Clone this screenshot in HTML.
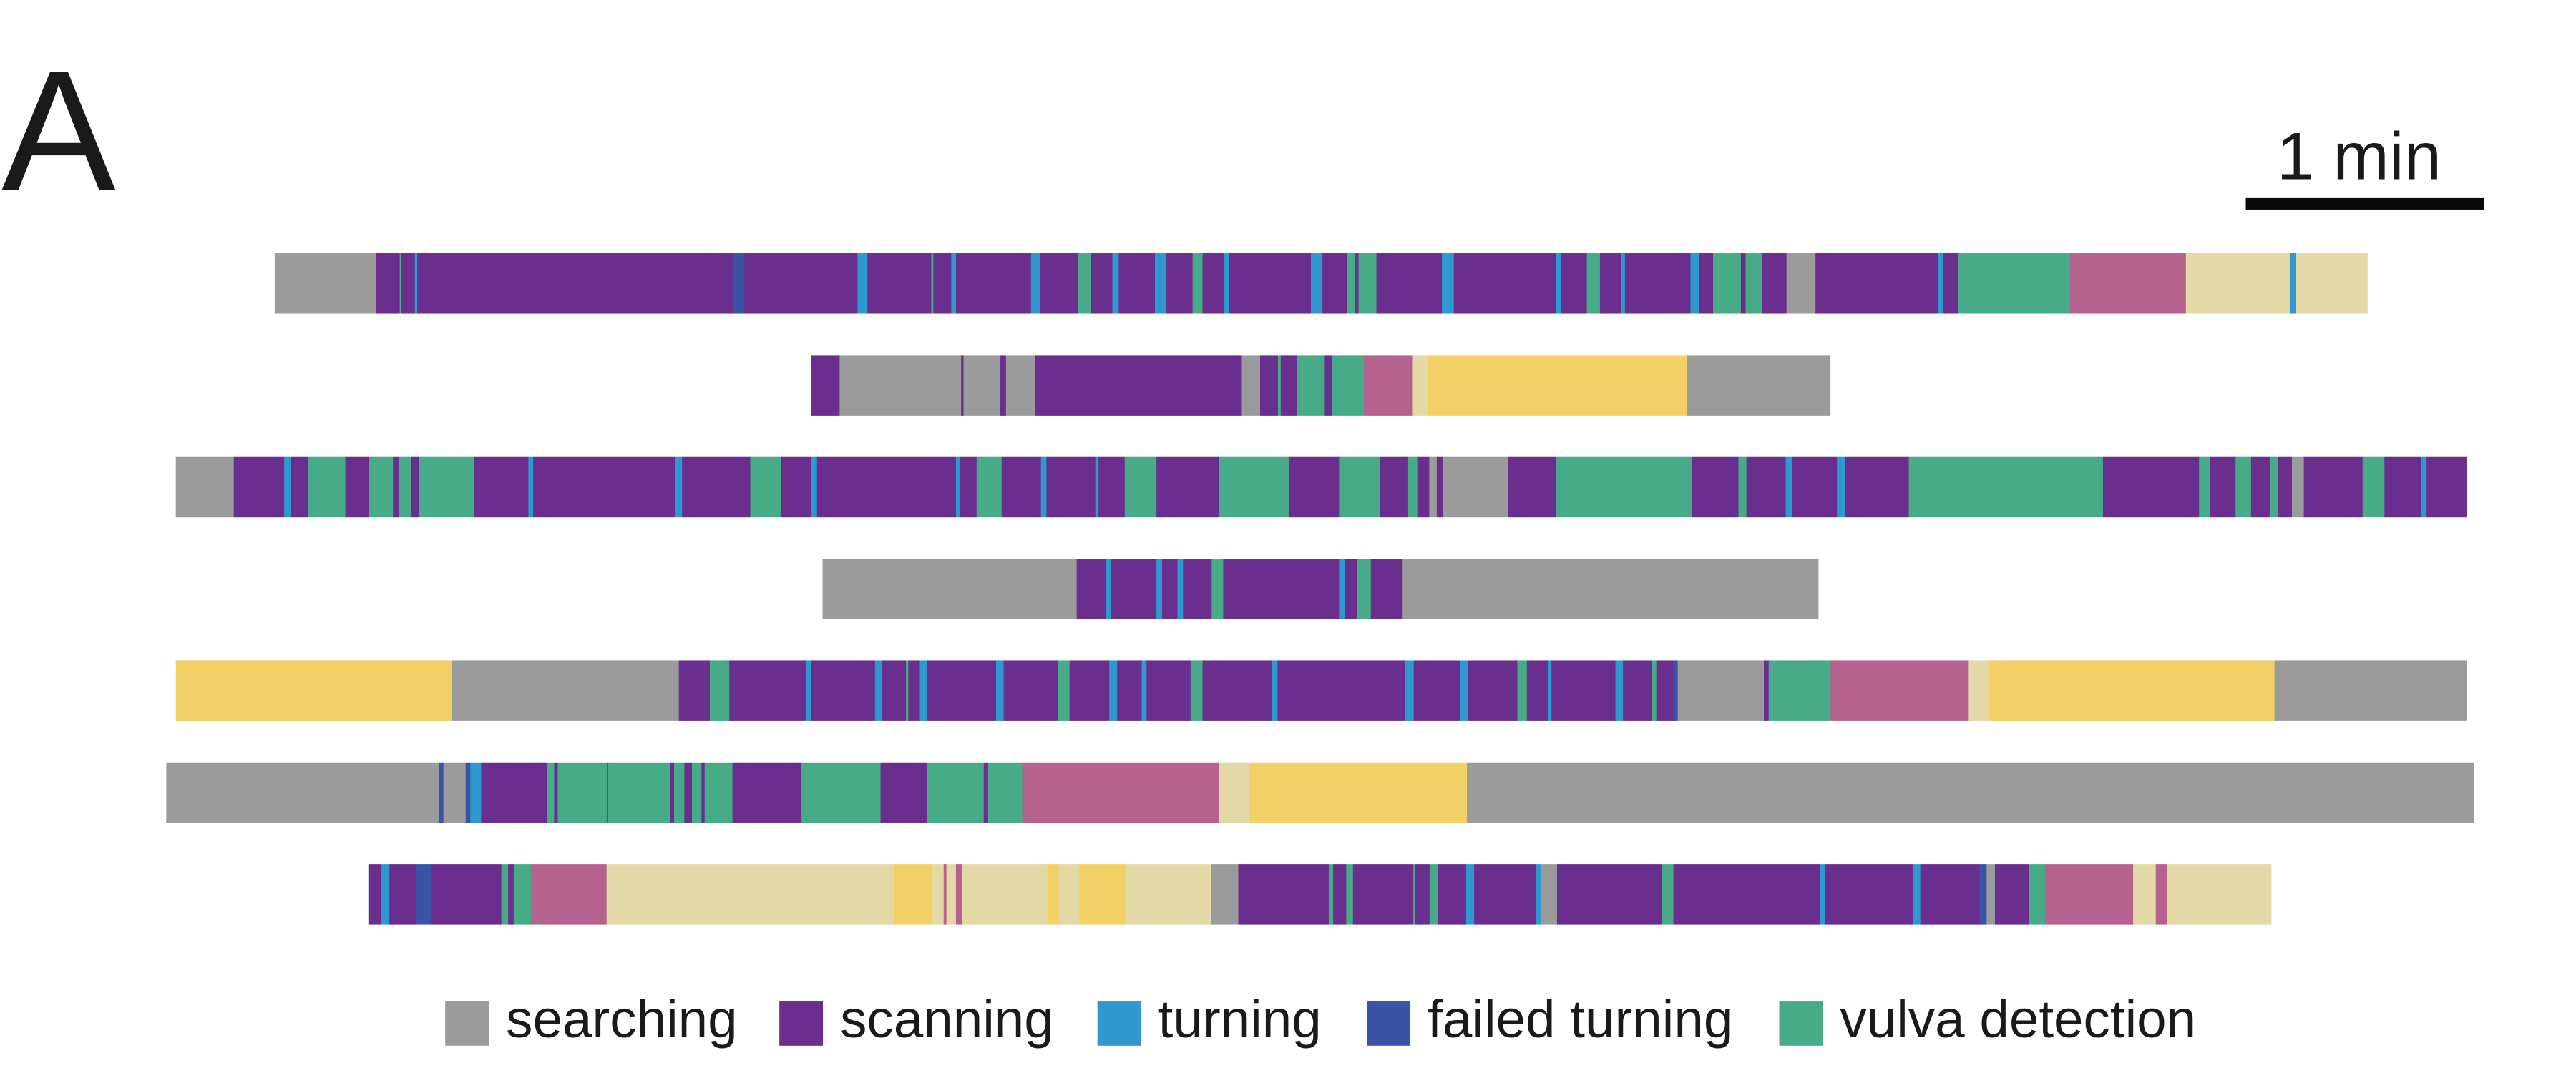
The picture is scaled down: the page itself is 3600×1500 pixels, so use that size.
<!DOCTYPE html>
<html><head><meta charset="utf-8"><style>
html,body{margin:0;padding:0;background:#fff;}
svg{display:block;}
text{font-family:"Liberation Sans",Arial,sans-serif;fill:#1a1a1a;}
</style></head><body>
<svg id="chart" xmlns="http://www.w3.org/2000/svg" width="3600" height="1500" viewBox="0 0 1568 653.33">
<text x="1" y="115.5" font-size="104">A</text>
<text x="1436" y="109" font-size="41" text-anchor="middle">1 min</text>
<rect x="1367" y="120.6" width="145" height="7" fill="#0a0a0c"/>
<g id="rows"></g>
<g id="legend"></g>
</svg>
<script>
const stateColors = {S:"#9b9b9b",P:"#6a2e8f",T:"#2e98cf",F:"#3a53a4",V:"#47ab88",K:"#b5628f",B:"#e3d9a6",Y:"#f2d066"};
const stateNames = {S:"searching",P:"scanning",T:"turning",F:"failed turning",V:"vulva detection",K:"other-pink",B:"other-beige",Y:"other-yellow"};
const legendStates = ["S","P","T","F","V"];
const legendLabels = ["searching","scanning","turning","failed turning","vulva detection"];
const secondsPerScaleBar = 60;
const rowStarts = [27.8,162.9,2.9,165.8,2.9,0.5,51.4];
const row1 = [["S",53.3],["P",59.3],["V",59.7],["P",63.1],["T",63.7],["P",143.2],["F",146.1],["P",174.6],["T",177.1],["P",193.2],["V",193.7],["P",198.2],["T",199.4],["P",218.3],["T",220.6],["P",230.1],["V",233.4],["P",238.8],["T",240.4],["P",249.5],["T",252.4],["P",259.0],["V",261.5],["P",266.9],["T",268.1],["P",288.8],["T",291.7],["P",297.9],["V",300.0],["P",300.8],["V",305.3],["P",321.8],["T",324.8],["P",350.5],["T",351.7],["P",358.3],["V",361.6],["P",367.0],["T",367.9],["P",384.4],["T",386.5],["P",390.1],["V",397.1],["P",398.3],["V",402.4],["P",408.6],["S",415.9],["P",446.7],["T",448.1],["P",451.9],["V",480.0],["K",509.2],["B",535.4],["T",536.9],["B",554.9]];
const row2 = [["P",170.1],["S",200.7],["P",201.3],["S",210.5],["P",212.0],["S",219.3],["P",271.4],["S",276.0],["P",280.5],["V",281.2],["P",285.3],["V",292.3],["P",294.1],["V",302.1],["K",314.3],["B",318.2],["Y",383.6],["S",419.6]];
const row3 = [["S",17.5],["P",30.2],["T",31.8],["P",36.2],["V",45.6],["P",51.5],["V",57.6],["P",59.1],["V",62.1],["P",64.2],["V",78.0],["P",91.7],["T",92.9],["P",128.6],["T",130.4],["P",147.6],["V",155.4],["P",163.0],["T",164.4],["P",199.4],["T",200.3],["P",204.6],["V",210.9],["P",220.8],["T",222.2],["P",234.5],["T",235.3],["P",241.9],["V",249.9],["P",265.6],["V",283.2],["P",295.9],["V",306.1],["P",313.3],["V",315.6],["P",318.6],["S",320.5],["P",322.1],["S",338.5],["P",350.6],["V",384.8],["P",396.5],["V",398.5],["P",408.4],["T",410.0],["P",421.3],["T",423.3],["P",439.4],["V",488.3],["P",512.5],["V",515.3],["P",521.7],["V",525.6],["P",530.3],["V",532.3],["P",535.9],["S",538.9],["P",553.7],["V",559.2],["P",568.4],["T",569.8],["P",579.9]];
const row4 = [["S",229.8],["P",237.1],["T",238.4],["P",249.9],["T",251.3],["P",255.2],["T",256.6],["P",263.8],["V",266.7],["P",295.9],["T",297.3],["P",300.4],["V",303.9],["P",311.9],["S",416.6]];
const row5 = [["Y",72.4],["S",129.6],["P",137.4],["V",142.3],["P",161.7],["T",163.0],["P",179.0],["T",180.8],["P",186.8],["V",187.4],["P",190.3],["T",192.1],["P",209.5],["T",211.4],["P",225.1],["V",228.0],["P",238.0],["T",240.0],["P",246.2],["T",247.4],["P",258.5],["V",261.5],["P",278.9],["T",280.4],["P",312.5],["T",314.7],["P",326.4],["T",328.3],["P",340.8],["V",343.2],["P",348.5],["T",349.4],["P",365.5],["T",367.4],["P",374.6],["V",375.8],["P",380.1],["F",381.2],["S",402.9],["P",404.1],["V",419.7],["K",454.5],["B",459.4],["Y",531.5],["S",579.9]];
const row6 = [["S",69.1],["F",70.3],["S",75.9],["F",77.1],["T",79.8],["P",96.4],["V",98.2],["P",99.1],["V",111.5],["P",111.8],["V",127.5],["P",128.4],["V",131.0],["P",132.9],["V",135.3],["P",136.1],["V",143.1],["P",160.5],["V",180.4],["P",192.1],["V",206.4],["P",207.5],["V",216.1],["K",265.6],["B",273.2],["Y",328.1],["S",581.8]];
const row7 = [["P",54.7],["T",56.7],["P",63.5],["F",67.2],["P",84.9],["V",86.6],["P",88.0],["V",92.4],["K",111.4],["B",183.8],["Y",193.5],["B",196.3],["K",197.0],["B",199.4],["K",200.9],["B",222.4],["Y",225.3],["B",230.5],["Y",242.1],["B",263.6],["S",270.5],["P",293.3],["V",294.4],["P",297.7],["V",299.4],["P",314.6],["V",315.0],["P",318.7],["V",320.7],["P",327.9],["T",329.9],["P",345.5],["T",346.8],["S",350.8],["P",377.3],["V",380.1],["P",417.1],["T",418.3],["P",440.4],["T",442.3],["P",457.2],["F",459.0],["S",461.1],["P",469.6],["V",473.7],["K",495.9],["B",501.6],["K",504.4],["B",530.7]];
const rowsData = [row1,row2,row3,row4,row5,row6,row7];

const NS="http://www.w3.org/2000/svg";
const X0=100, PX_PER_SCALE=145;
function xScale(t){return X0 + t*PX_PER_SCALE/secondsPerScaleBar;}
const ROW_TOP=154.2, ROW_STEP=62, ROW_H=36.8;
function yRow(i){return ROW_TOP + i*ROW_STEP;}

const rowsG=document.getElementById('rows');
rowsData.forEach((segs,i)=>{
  const g=document.createElementNS(NS,'g');
  
  
  let t0=rowStarts[i];
  segs.forEach(([s,t1])=>{
    const r=document.createElementNS(NS,'rect');
    const xa=xScale(t0), xb=xScale(t1);
    r.setAttribute('x',xa);
    r.setAttribute('y',yRow(i));
    r.setAttribute('width',Math.max(0.3,xb-xa+0.15));
    r.setAttribute('height',ROW_H);
    r.setAttribute('fill',stateColors[s]);
    
    
    g.appendChild(r);
    t0=t1;
  });
  rowsG.appendChild(g);
});

const legendSwatchX=[271,474.4,668,832,1083];
const legG=document.getElementById('legend');
legendStates.forEach((s,i)=>{
  const r=document.createElementNS(NS,'rect');
  r.setAttribute('x',legendSwatchX[i]);
  r.setAttribute('y',609.8);
  r.setAttribute('width',26.5);
  r.setAttribute('height',26.9);
  r.setAttribute('fill',stateColors[s]);
  
  
  legG.appendChild(r);
  const tx=document.createElementNS(NS,'text');
  tx.setAttribute('x',legendSwatchX[i]+37);
  tx.setAttribute('y',631.5);
  tx.setAttribute('font-size','32.5');
  tx.textContent=legendLabels[i];
  
  
  legG.appendChild(tx);
});
</script>
</body></html>
